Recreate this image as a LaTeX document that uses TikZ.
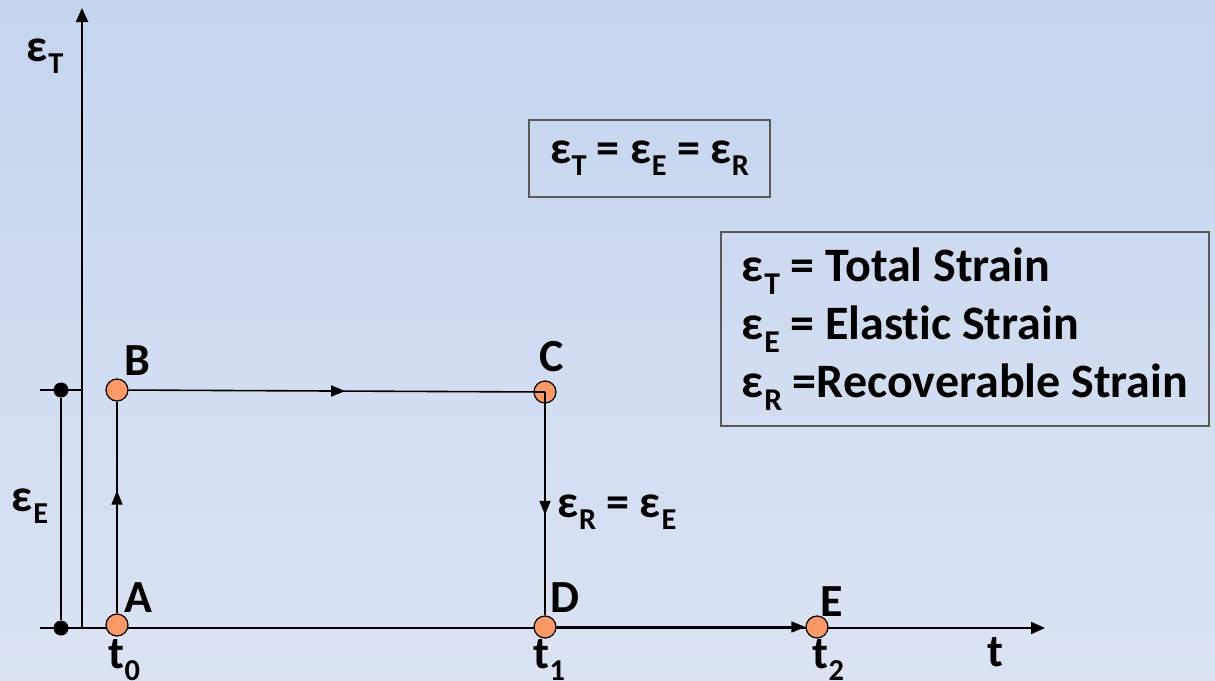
\documentclass[tikz,border=0pt]{standalone}
\usepackage{fontspec}
\setmainfont{Carlito}[Ligatures=CommonOff]
\usetikzlibrary{arrows.meta,decorations.markings}
\newcommand{\lowsub}[1]{\raisebox{-0.26em}{\fontsize{0.66em}{0.66em}\selectfont #1}}
\newcommand{\epsub}[1]{ε\kern0.5pt\lowsub{#1}}
\newcommand{\tsub}[1]{t\kern0.5pt\lowsub{#1}}
\begin{document}
\begin{tikzpicture}[
    x=1pt, y=-1pt,
    font=\bfseries\fontsize{46}{52}\selectfont,
    state/.style={circle, draw=black, line width=1.2pt, fill=pointorange, minimum size=22pt, inner sep=0pt},
    axis/.style={draw=black, line width=2.2pt, -{Triangle[length=14pt, width=12pt]}},
    flow/.style={draw=black, line width=1.6pt},
    midarrow/.style={postaction={decorate}, decoration={markings, mark=at position #1 with {\arrow{Triangle[length=14pt, width=11pt]}}}},
    tip/.style={-{Triangle[length=14pt, width=11pt]}},
    tick/.style={draw=black, line width=1.6pt},
    dot/.style={circle, fill=black, minimum size=15pt, inner sep=0pt},
    infobox/.style={draw=black!65, line width=1.2pt, inner sep=0pt}
]
\definecolor{pointorange}{RGB}{250,152,102}
\definecolor{bgtop}{RGB}{197,213,238}
\definecolor{bgbottom}{RGB}{219,227,243}

% background
\shade[top color=bgtop, bottom color=bgbottom] (0,0) rectangle (1215,680);
\useasboundingbox (0,0) rectangle (1215,680);

% axes
\coordinate (origin) at (82,628);
\coordinate (ytip) at (82,8);
\coordinate (xtip) at (1045,628);
\draw[axis] (origin) -- (ytip);
\draw[axis] (origin) -- (xtip);
\node (ylabel) at (45,56) {\epsub{T}};
\node (xlabel) at (995,652) {t};

% elastic strain marker
\coordinate (lowtick) at (40,628);
\coordinate (hightick) at (82,390);
\draw[tick] (lowtick) -- (origin);
\draw[tick] (40,390) -- (hightick);
\node[dot] (elow) at (61,628) {};
\node[dot] (ehigh) at (61,390) {};
\draw[tick] (elow) -- (ehigh);
\node (elabel) at (30,506) {\epsub{E}};

% states
\node[state] (A) at (117,625) {};
\node[state] (B) at (117,390) {};
\node[state] (D) at (545,627) {};
\node[state] (E) at (817,627) {};
\node[state] (C) at (545,392) {};

\draw[flow, midarrow=0.58] (A) -- (B);
\draw[flow, midarrow=0.52] (B) -- (C.center);
\draw[flow, midarrow=0.55] (C.center) -- (D);
\draw[flow, tip] (D) -- (E);

\node (alabel) at (138,598) {A};
\node (blabel) at (137,361) {B};
\node (clabel) at (552,357) {C};
\node (dlabel) at (565,598) {D};
\node (elabel2) at (832,602) {E};
\node (t0) at (124,660) {\tsub{0}};
\node (t1) at (549,660) {\tsub{1}};
\node (t2) at (828,660) {\tsub{2}};
\node (recover) at (617,512) {\epsub{R} = \epsub{E}};

% relations
\node[infobox, minimum width=241pt, minimum height=77pt] (relation) at (649.5,158.5) {\epsub{T} = \epsub{E} = \epsub{R}};
\node[infobox, minimum width=488pt, minimum height=194pt, align=left, font=\bfseries\fontsize{48}{58}\selectfont] (legend) at (965,329) {\epsub{T} = Total Strain\\ \epsub{E} = Elastic Strain\\ \epsub{R} =Recoverable Strain};
\end{tikzpicture}
\end{document}
